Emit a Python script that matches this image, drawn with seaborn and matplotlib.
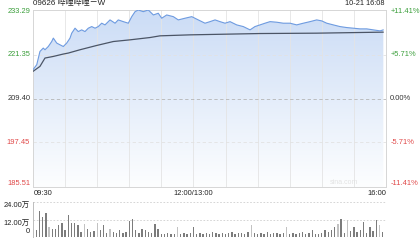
import numpy as np
import pandas as pd
import matplotlib
matplotlib.use("Agg")
import matplotlib.pyplot as plt
import seaborn as sns
from matplotlib.colors import LinearSegmentedColormap

# ---------------- data ----------------
title = "09626 哔哩哔哩－W"
timestamp = "10-21 16:08"
prev_close = 209.40
price_ticks = [233.29, 221.35, 209.40, 197.45, 185.51]
pct_ticks = ["+11.41%", "+5.71%", "0.00%", "-5.71%", "-11.41%"]
time_labels = ["09:30", "12:00/13:00", "16:00"]
vol_ticks = [24.0, 12.0, 0.0]
vol_tick_labels = ["24.00万", "12.00万", "0"]

# minutes since 09:30 on the compressed trading axis (lunch removed)
price_min = [0, 3.5, 6.5, 9.6, 11.2, 14.3, 17.5, 19.0, 22.2, 25.2, 28.3, 31.5, 34.6,
             36.2, 39.3, 42.3, 45.5, 48.6, 51.7, 54.9, 58.0, 61.0, 64.2, 67.3, 72.0,
             76.7, 79.7, 84.4, 89.1, 92.3, 95.4, 98.4, 103.1, 107.8, 112.5, 117.1,
             120.3, 125.0, 131.2, 135.8, 142.1, 148.4, 154.5, 160.8, 165.5, 170.2,
             174.8, 179.5, 184.2, 190.4, 196.6, 202.9, 207.5, 212.2, 216.9, 221.6,
             227.8, 234.0, 240.3, 246.5, 252.7, 259.0, 265.2, 269.9, 274.6, 280.7,
             287.0, 293.3, 299.4, 305.7, 312.0, 318.1, 324.4, 327.5]
price = [217.28, 218.63, 222.25, 223.17, 222.71, 223.60, 224.96, 225.89, 224.53,
         224.07, 223.60, 224.53, 225.89, 227.24, 228.60, 227.68, 228.14, 227.68,
         228.60, 229.04, 228.60, 229.04, 229.96, 229.50, 230.86, 229.96, 230.86,
         230.39, 229.96, 231.75, 233.11, 233.57, 233.11, 233.57, 232.21, 232.68,
         231.32, 232.21, 231.75, 230.86, 231.32, 231.75, 230.86, 229.96, 230.39,
         230.86, 230.39, 229.96, 230.39, 229.50, 229.04, 228.14, 229.04, 229.50,
         229.96, 230.39, 230.23, 229.96, 229.96, 229.50, 229.96, 230.39, 230.86,
         230.59, 229.96, 229.50, 229.04, 228.77, 228.60, 228.41, 228.41, 228.14,
         227.87, 228.14]

avg_min = [0, 6.5, 11.2, 19.0, 28.3, 33.0, 43.9, 59.5, 75.1, 90.7, 109.4, 118.7,
           146.8, 212.2, 265.2, 327.5]
avg_price = [216.81, 218.17, 220.45, 220.89, 221.54, 221.81, 222.71, 223.88, 224.96,
             225.42, 226.05, 226.51, 226.78, 227.14, 227.24, 227.52]

# volume (万 shares), one bar every 3 minutes
vol_min = list(range(0, 330, 3))
volume = [5.7, 4.5, 17.7, 13.8, 16.5, 7.0, 5.7, 5.7, 8.6, 10.0,
          4.6, 15.0, 10.0, 9.5, 8.0, 3.4, 9.0, 5.7, 3.4, 4.0,
          10.0, 4.6, 8.0, 3.0, 5.7, 3.4, 2.8, 4.6, 3.0, 3.4,
          11.0, 12.6, 4.6, 3.0, 5.7, 4.6, 3.4, 2.5, 9.0, 5.7,
          2.3, 2.0, 2.8, 2.3, 1.8, 7.0, 2.3, 2.8, 2.0, 2.5,
          6.9, 2.3, 3.0, 2.0, 2.8, 2.3, 3.4, 2.5, 2.0, 3.0,
          2.3, 2.8, 3.4, 2.0, 2.5, 3.0, 2.3, 3.4, 8.0, 3.0,
          2.3, 2.8, 2.0, 3.4, 2.3, 2.5, 3.0, 2.0, 2.8, 6.9,
          2.3, 2.5, 2.0, 2.8, 3.4, 2.0, 2.5, 4.6, 2.3, 2.0,
          2.8, 4.6, 3.4, 4.6, 6.9, 9.2, 12.6, 3.0, 11.5, 4.0,
          6.9, 3.4, 4.6, 10.3, 3.0, 6.9, 4.0, 11.5, 8.0, 3.4]
light_bars = [0, 5, 16, 20, 24, 45, 68, 79, 95, 98, 108]

# ---------------- style ----------------
sns.set_theme(style="white")
plt.rcParams["font.family"] = ["Liberation Sans", "Noto Sans CJK SC", "DejaVu Sans"]

GREEN = "#3a9e3a"
RED = "#e04848"
DARK = "#333333"
GRID = "#e4e4e4"
label_colors = [GREEN, GREEN, DARK, RED, RED]

W, H = 420, 240
fig = plt.figure(figsize=(W / 100, H / 100), dpi=100)
fig.patch.set_facecolor("white")

ax = fig.add_axes([33 / W, 1 - 187 / H, 353 / W, 177.5 / H])
axv = fig.add_axes([33 / W, 1 - 237 / H, 353 / W, 35 / H])

y0, y1 = 185.25, 233.7
x0, x1 = 0, 330

# gradient fill under price line
cmap = LinearSegmentedColormap.from_list("g", ["#fdfeff", "#e4edfa", "#cbdcf6"])
poly = ax.fill_between(price_min, price, y0, color="none", lw=0)
path = poly.get_paths()[0]
grad = np.linspace(0, 1, 256).reshape(-1, 1)
im = ax.imshow(grad, extent=[x0, x1, y0, max(price)], aspect="auto", cmap=cmap,
               origin="lower", zorder=1, interpolation="bilinear")
im.set_clip_path(path, transform=ax.transData)

# gridlines
for m in range(30, 330, 30):
    ax.axvline(m, color=GRID, lw=0.6, zorder=2)
for p in [price_ticks[1], price_ticks[3]]:
    ax.axhline(p, color="#e2e2e2", lw=0.6, ls=(0, (4, 3)), zorder=2)
ax.axhline(prev_close, color="#b5b5b5", lw=0.6, ls=(0, (4, 3)), zorder=2)

sns.lineplot(x=avg_min, y=avg_price, ax=ax, color="#4b5566", lw=0.9, zorder=4)
sns.lineplot(x=price_min, y=price, ax=ax, color="#6e9be0", lw=0.8, zorder=5)

ax.set_xlim(x0, x1)
ax.set_ylim(y0, y1)
ax.set_xticks([])
ax.set_yticks([])
ax.set_xlabel("")
ax.set_ylabel("")
for s in ax.spines.values():
    s.set_color("#d6d6d6")
    s.set_linewidth(0.7)

ytr = ax.get_yaxis_transform()
fs = 5.4
for i, (p, pl, c) in enumerate(zip(price_ticks, pct_ticks, label_colors)):
    yy = p
    va = "center"
    if i == len(price_ticks) - 1:
        va = "bottom"
        yy = y0
    ax.text(-0.008, yy, f"{p:.2f}", transform=ytr, ha="right", va=va,
            fontsize=fs, color=c)
    ax.text(1.012, yy, pl, transform=ytr, ha="left", va=va, fontsize=fs, color=c)

ax.text(0.0, 1.012, title, transform=ax.transAxes, ha="left", va="bottom",
        fontsize=5.8, color="#222222")
ax.text(0.995, 1.012, timestamp, transform=ax.transAxes, ha="right", va="bottom",
        fontsize=5.3, color="#222222")
ax.text(0.003, -0.018, time_labels[0], transform=ax.transAxes, ha="left", va="top",
        fontsize=fs, color="#222222")
ax.text(150 / 330, -0.018, time_labels[1], transform=ax.transAxes, ha="center",
        va="top", fontsize=fs, color="#222222")
ax.text(1.0, -0.018, time_labels[2], transform=ax.transAxes, ha="right", va="top",
        fontsize=fs, color="#222222")
ax.text(0.88, 0.005, "sina.com", transform=ax.transAxes, ha="center", va="bottom",
        fontsize=5, color="#e2e2e2", zorder=6)

# volume panel
vdf = pd.DataFrame({"minute": vol_min, "vol": volume,
                    "shade": ["light" if i in light_bars else "dark"
                              for i in range(len(volume))]})
sns.barplot(data=vdf, x="minute", y="vol", hue="shade",
            palette={"dark": "#7c7c7c", "light": "#c2c2c2"},
            native_scale=True, dodge=False, width=0.42, errorbar=None,
            legend=False, linewidth=0, ax=axv)
axv.set_xlim(x0, x1)
axv.set_ylim(0, 24.2)
axv.axhline(12, color="#cfcfcf", lw=0.6, ls=(0, (2, 2)), zorder=0)
axv.axhline(24, color="#cfcfcf", lw=0.6, ls=(0, (2, 2)), zorder=0)
axv.set_xticks([])
axv.set_yticks([])
axv.set_xlabel("")
axv.set_ylabel("")
for k in ["top", "right", "bottom"]:
    axv.spines[k].set_visible(False)
axv.spines["left"].set_color("#bdbdbd")
axv.spines["left"].set_linewidth(0.7)
vtr = axv.get_yaxis_transform()
axv.text(-0.008, 24, vol_tick_labels[0], transform=vtr, ha="right", va="top",
         fontsize=fs, color="#222222")
axv.text(-0.008, 12, vol_tick_labels[1], transform=vtr, ha="right", va="top",
         fontsize=fs, color="#222222")
axv.text(-0.008, 1.5, vol_tick_labels[2], transform=vtr, ha="right", va="bottom",
         fontsize=fs, color="#222222")

fig.savefig("out.png", dpi=100, facecolor="white")
